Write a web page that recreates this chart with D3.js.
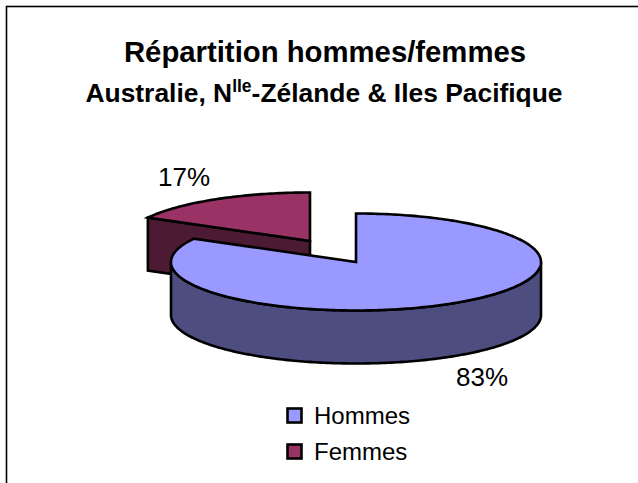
<!DOCTYPE html>
<html><head><meta charset="utf-8">
<script src="https://cdn.jsdelivr.net/npm/d3@7"></script>
<style>html,body{margin:0;padding:0;background:#fff;overflow:hidden}svg{display:block}text{font-family:"Liberation Sans",Arial,sans-serif;fill:#000}</style>
</head><body><svg id="c" width="638" height="483"></svg>
<script>
const categories = ["Hommes", "Femmes"];
const shares = [83, 17];
const labels = ["83%", "17%"];
const topColors = ["#9999ff", "#993366"];
const sideColors = ["#4d4d80", "#4d1a33"];

const svg = d3.select("#c");
svg.append("rect").attr("x",6.5).attr("y",6.5).attr("width",660).attr("height",500)
  .attr("fill","#fff").attr("stroke","#000").attr("stroke-width",1.6);

svg.append("text").attr("x",325).attr("y",62).attr("text-anchor","middle")
  .attr("font-weight","bold").attr("font-size",29.3).text("Répartition hommes/femmes");
const t2 = svg.append("text").attr("x",324).attr("y",102).attr("text-anchor","middle")
  .attr("font-weight","bold").attr("font-size",26.4);
t2.append("tspan").text("Australie, N");
t2.append("tspan").attr("font-size",17.5).attr("dy",-10).text("lle");
t2.append("tspan").attr("dy",10).text("-Zélande & Iles Pacifique");

const rx = 185, ry = 48.5, depth = 53;
const radius = d3.scaleLinear().domain([0,1]).range([0,rx]);
const squash = d3.scaleLinear().domain([0,rx]).range([0,ry]);
const pie = d3.pie().sort(null).value(d=>d);
const slices = pie(shares);
const centers = [[356,262],[310,241]];
const pt = (c,a)=>[c[0]+radius(1)*Math.sin(a), c[1]-squash(rx)*Math.cos(a)];
const line = d3.line();
function style(s,fill){s.attr("fill",fill).attr("stroke","#000").attr("stroke-width",2.6).attr("stroke-linejoin","miter");return s;}
function arcPts(c,a0,a1){const n=Math.max(2,Math.ceil(Math.abs(a1-a0)*60));return d3.range(n+1).map(i=>pt(c,a0+(a1-a0)*i/n));}

function drawSlice(i){
  const s=slices[i], c=centers[i];
  const down=p=>[p[0],p[1]+depth];
  if(i===1){
    const a=pt(c,s.startAngle);
    style(svg.append("path"),sideColors[i]).attr("d",line([a,c,down(c),down(a)])+"Z");
  } else {
    const front=arcPts(c,Math.PI/2,3*Math.PI/2);
    style(svg.append("path"),sideColors[i]).attr("d",line(front.concat(front.slice().reverse().map(down)))+"Z");
  }
  style(svg.append("path"),topColors[i]).attr("d",line([c].concat(arcPts(c,s.startAngle,s.endAngle)))+"Z");
}
drawSlice(1);
drawSlice(0);

svg.append("text").attr("x",184).attr("y",186).attr("text-anchor","middle").attr("font-size",26).text(labels[1]);
svg.append("text").attr("x",482).attr("y",386).attr("text-anchor","middle").attr("font-size",26).text(labels[0]);

const ly = d3.scalePoint().domain(categories).range([415.5,451.5]);
categories.forEach((k,i)=>{
  style(svg.append("rect"),topColors[i]).attr("x",287.5).attr("y",ly(k)-7).attr("width",14).attr("height",14);
  svg.append("text").attr("x",314).attr("y",ly(k)+8).attr("font-size",24).text(k);
});
</script></body></html>
